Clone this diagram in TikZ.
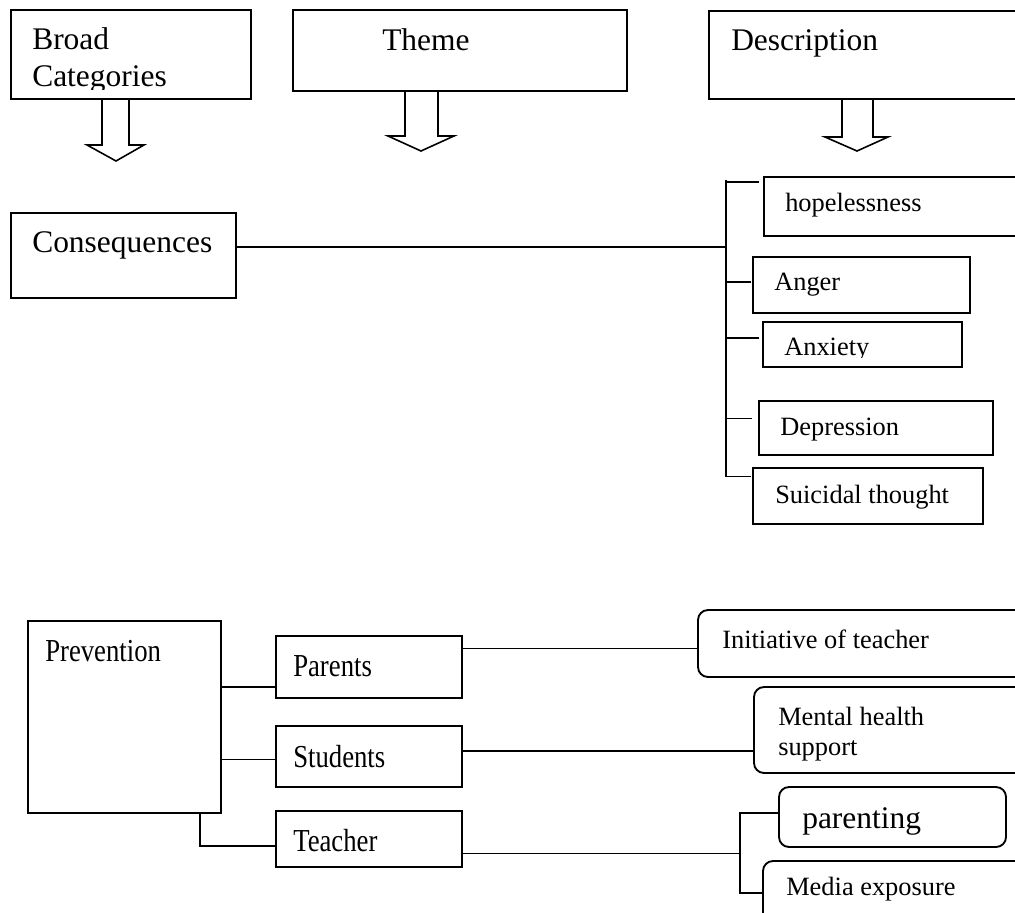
\documentclass[tikz,border=0pt]{standalone}
\usepackage{fontspec}
\setmainfont{Liberation Serif}
\newfontfamily\narrowserif{Liberation Serif}[FakeStretch=0.835]
\usetikzlibrary{fit,calc}
\begin{document}
\begin{tikzpicture}[x=0.75pt,y=-0.75pt,
  box/.style={draw, line width=1.4pt, inner sep=0pt},
  rbox/.style={box, rounded corners=7.5pt},
  link/.style={line width=1.2pt},
  hollow/.style={line width=1.2pt, line join=miter},
  big/.style={font=\fontsize{23.6}{28}\selectfont},
  small/.style={font=\fontsize{19.8}{24}\selectfont},
  narrow/.style={font=\narrowserif\fontsize{24}{28}\selectfont},
  lbl/.style={anchor=base west, inner sep=0pt}]
\useasboundingbox (0,0) rectangle (1015,913);
\clip (0,0) rectangle (1015,913);

% header boxes
\node[box, fit={(11,10) (251,99)}] (bc) {};
\node[box, fit={(293,10) (627,91)}] (th) {};
\node[box, fit={(709,11) (1040,99)}] (de) {};

\node[lbl,big] (bc-a) at (32,50) {Broad};
\begin{scope}
  \clip (11,10) rectangle (251,90);
  \node[lbl,big] (bc-b) at (32,87) {Categories};
\end{scope}
\node[lbl,big] (th-t) at (382,51) {Theme};
\node[lbl,big] (de-t) at (731,51) {Description};

% hollow down arrows
\draw[hollow] (102,99) -- (102,145) -- (87,145) -- (116,161) -- (144,145) -- (129,145) -- (129,99);
\draw[hollow] (405,91) -- (405,136) -- (388,136) -- (421,151) -- (454,136) -- (438,136) -- (438,91);
\draw[hollow] (842,99) -- (842,137) -- (825,137) -- (857,151) -- (888,137) -- (873,137) -- (873,99);

% consequences
\node[box, fit={(11,213) (236,298)}] (cons) {};
\node[lbl,big] (cons-t) at (32,253) {Consequences};

\node[box, fit={(764,177) (1040,236)}] (hope) {};
\node[box, fit={(753,257) (970,313)}] (anger) {};
\node[box, fit={(763,322) (962,367)}] (anx) {};
\node[box, fit={(759,401) (993,455)}] (dep) {};
\node[box, fit={(753,468) (983,524)}] (sui) {};

\node[lbl,small] (hope-t) at (785,212) {hopelessness};
\node[lbl,small] (anger-t) at (774,291) {Anger};
\begin{scope}
  \clip (763,322) rectangle (962,357);
  \node[lbl,small] (anx-t) at (784,355) {Anxiety};
\end{scope}
\node[lbl,small] (dep-t) at (780,435) {Depression};
\node[lbl,small] (sui-t) at (775,503) {Suicidal thought};

\coordinate (trunkTop) at (726,180);
\coordinate (trunkBot) at (726,477);
\coordinate (consOut) at ($(cons.north east)!0.4!(cons.south east)$);
\draw[link] (consOut) -- (consOut -| trunkTop);
\draw[link] (trunkTop) -- (trunkBot);
\draw[link] ([xshift=-3pt]$(hope.north west)!0.10!(hope.south west)$) coordinate (hT) -- (hT -| trunkTop);
\draw[link] ([xshift=-0.75pt]$(anger.north west)!0.446!(anger.south west)$) coordinate (aT) -- (aT -| trunkTop);
\draw[link] ([xshift=-2.25pt]$(anx.north west)!0.356!(anx.south west)$) coordinate (xT) -- (xT -| trunkTop);
\draw[link] ([xshift=-4.5pt]$(dep.north west)!0.333!(dep.south west)$) coordinate (dT) -- (dT -| trunkTop);
\draw[link] ([xshift=-0.75pt]$(sui.north west)!0.16!(sui.south west)$) coordinate (sT) -- (sT -| trunkTop);

% prevention
\node[box, fit={(28,621) (221,813)}] (prev) {};
\node[box, fit={(276,636) (462,698)}] (par) {};
\node[box, fit={(276,726) (462,787)}] (stu) {};
\node[box, fit={(276,811) (462,867)}] (tea) {};

\node[lbl,narrow] (prev-t) at (45,661) {Prevention};
\node[lbl,narrow] (par-t) at (293,676) {Parents};
\node[lbl,narrow] (stu-t) at (293,767) {Students};
\node[lbl,narrow] (tea-t) at (293,851) {Teacher};

\node[rbox, fit={(698,610) (1040,677)}] (init) {};
\node[rbox, fit={(754,687) (1040,773)}] (mh) {};
\node[rbox, fit={(779,787) (1006,847)}] (pg) {};
\node[rbox, fit={(763,861) (1040,960)}] (me) {};

\node[lbl,small] (init-t) at (722,648) {Initiative of teacher};
\node[lbl,small] (mh-a) at (778,725) {Mental health};
\node[lbl,small] (mh-b) at (778,755) {support};
\node[lbl,big] (pg-t) at (802,828) {parenting};
\node[lbl,small] (me-t) at (786,895) {Media exposure};

\draw[link] ($(prev.north east)!0.344!(prev.south east)$) coordinate (pp) -- (pp -| par.west);
\draw[link] ($(prev.north east)!0.719!(prev.south east)$) coordinate (ps) -- (ps -| stu.west);
\draw[link] ($(prev.south west)!0.886!(prev.south east)$) |- ($(tea.north west)!0.625!(tea.south west)$);

\draw[link] ($(par.north east)!0.21!(par.south east)$) coordinate (pi) -- (pi -| init.west);
\draw[link] ($(stu.north east)!0.41!(stu.south east)$) coordinate (sm) -- (sm -| mh.west);

\coordinate (brTop) at (740,813);
\coordinate (brBot) at (740,893);
\draw[link] ($(tea.north east)!0.75!(tea.south east)$) coordinate (tb) -- (tb -| brTop);
\draw[link] (pg.west |- brTop) -- (brTop) -- (brBot) -- (me.west |- brBot);
\end{tikzpicture}
\end{document}
